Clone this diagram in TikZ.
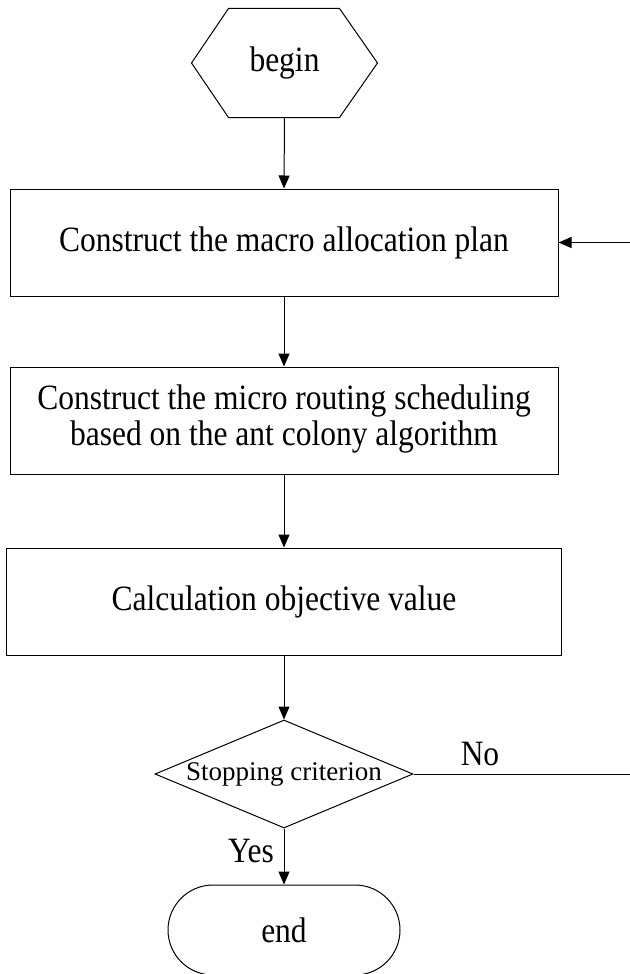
\documentclass[tikz,border=0pt]{standalone}
\usepackage{fontspec}
\usepackage{graphicx}
\setmainfont{Liberation Serif}
\usetikzlibrary{shapes.geometric,arrows.meta}
\newcommand{\tallt}[1]{\scalebox{1}[1.13]{#1}}
\begin{document}
\begin{tikzpicture}[x=1pt,y=-1pt,
  line width=1pt,
  bigtxt/.style={font=\fontsize{31.5}{32}\selectfont},
  procbox/.style={draw, minimum width=548pt, minimum height=107pt, inner sep=0pt, align=center, bigtxt},
  arr/.style={-{Triangle[length=13pt,width=11pt]}}
]
\useasboundingbox (0,0) rectangle (629,974);
% begin hexagon
\node[minimum width=185pt, minimum height=108pt, inner sep=0pt, bigtxt] (begin) at (284.5,63) {\tallt{begin}};
\draw (begin.west) -- ([xshift=37pt]begin.north west) -- ([xshift=-38pt]begin.north east)
  -- (begin.east) -- ([xshift=-38pt]begin.south east) -- ([xshift=37pt]begin.south west) -- cycle;
% process boxes
\node[procbox] (b1) at (284,242.5) {\tallt{Construct the macro allocation plan}};
\node[procbox] (b2) at (284,420.5) {\tallt{\renewcommand{\arraystretch}{1}\begin{tabular}{@{}c@{}}Construct the micro routing scheduling\\based on the ant colony algorithm\end{tabular}}};
\node[procbox, minimum width=555pt] (b3) at (284,601.5) {\tallt{Calculation objective value}};
% decision
\node[draw, diamond, aspect=2.4, minimum width=258pt, minimum height=108pt, inner sep=0pt,
  font=\fontsize{27}{30}\selectfont] (dec) at (284,774) {Stopping criterion};
% end
\node[draw, rounded corners=45pt, minimum width=232pt, minimum height=90pt, bigtxt] (end) at (284,930) {\tallt{end}};
% connectors
\draw[arr] (begin.south) -- (b1.north);
\draw[arr] (b1.south) -- (b2.north);
\draw[arr] (b2.south) -- (b3.north);
\draw[arr] (b3.south) -- (dec.north);
\draw[arr] (dec.south) -- (end.north);
\coordinate (loop) at (632,774);
\draw[arr] (dec.east) -- (loop) |- (b1.east);
% labels
\node[bigtxt, inner sep=0pt] (nolab) at (480,754) {\tallt{No}};
\node[bigtxt, inner sep=0pt] (yeslab) at (251,851) {\tallt{Yes}};
\end{tikzpicture}
\end{document}
